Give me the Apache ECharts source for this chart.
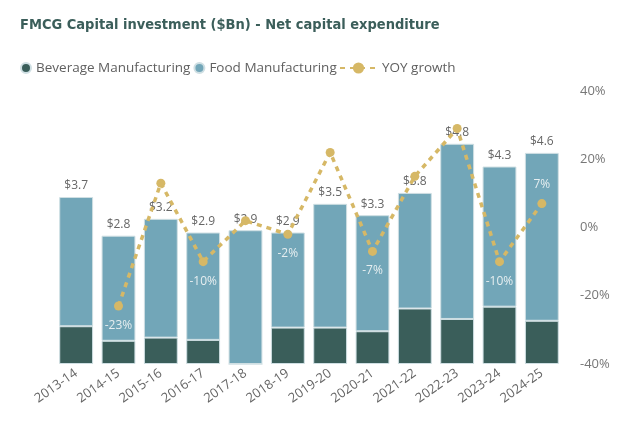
<!DOCTYPE html>
<html><head><meta charset="utf-8">
<script src="https://cdn.jsdelivr.net/npm/echarts@6/dist/echarts.min.js"></script>
<style>html,body{margin:0;padding:0;background:#fff}#c{width:630px;height:435px}</style>
</head><body><div id="c"></div>
<script>
const categories = ['2013-14','2014-15','2015-16','2016-17','2017-18','2018-19','2019-20','2020-21','2021-22','2022-23','2023-24','2024-25'];
const beverage = [0.83,0.51,0.58,0.53,0,0.80,0.80,0.72,1.22,0.99,1.26,0.95];
const food =     [2.84,2.31,2.61,2.36,2.94,2.09,2.72,2.55,2.54,3.85,3.08,3.69];
const yoyGrowth = [null,-23,13,-10,2,-2,22,-7,15,29,-10,7];
const yoyLabelShown = [false,true,false,true,false,true,false,true,false,false,true,true];
const rightTicks = [-40,-20,0,20,40];

const totals = categories.map((c,i)=>beverage[i]+food[i]);
const chart = echarts.init(document.getElementById('c'));
const txtFont = "'Open Sans', 'Noto Sans', sans-serif";
const legText = {fontFamily:txtFont,fontSize:13.5,color:'#606060'};
chart.setOption({
  animation:false,
  title:{text:'FMCG Capital investment ($Bn) - Net capital expenditure',left:20,top:18,padding:0,
    textStyle:{fontFamily:"'Liberation Sans Narrow','DejaVu Sans Condensed',sans-serif",fontWeight:'bold',fontSize:14.5,color:'#3b5e5a'}},
  legend:[
    {left:20,top:61,padding:0,itemGap:3,itemWidth:10,itemHeight:10,textStyle:legText,
     data:[{name:'Beverage Manufacturing',icon:'circle'},{name:'Food Manufacturing',icon:'circle'}]},
    {left:339,top:61,padding:0,itemWidth:37,itemHeight:14,textStyle:legText,data:[{name:'YOY growth'}]}
  ],
  grid:{left:55,right:67,top:91,bottom:71},
  xAxis:{type:'category',data:categories,axisLine:{show:false},axisTick:{show:false},
    axisLabel:{rotate:35,color:'#666',fontFamily:txtFont,fontSize:13,margin:8,interval:0}},
  yAxis:[
    {type:'value',min:0,max:6,show:false,splitLine:{show:false}},
    {type:'value',min:rightTicks[0],max:rightTicks[rightTicks.length-1],interval:20,position:'right',
      axisLine:{show:false},axisTick:{show:false},splitLine:{show:false},
      axisLabel:{formatter:'{value}%',color:'#777',fontFamily:txtFont,fontSize:13,margin:17}}
  ],
  series:[
    {name:'Beverage Manufacturing',type:'bar',stack:'t',barCategoryGap:'20%',data:beverage,
      itemStyle:{color:'#3a5e5a',borderColor:'#cfdfe3',borderWidth:1}},
    {name:'Food Manufacturing',type:'bar',stack:'t',data:food,
      itemStyle:{color:'#72a6b8',borderColor:'#cfdfe3',borderWidth:1},
      label:{show:true,position:'top',distance:5,color:'#666',fontFamily:txtFont,fontSize:12,
        formatter:p=>'$'+totals[p.dataIndex].toFixed(1)}},
    {name:'YOY growth',type:'line',yAxisIndex:1,z:5,connectNulls:false,
      data:yoyGrowth.map((v,i)=>({value:v,label:{show:yoyLabelShown[i],position:v<0?'bottom':'top'}})),
      symbol:'circle',symbolSize:9,
      lineStyle:{color:'#d6b866',width:3.5,type:[5,5]},
      itemStyle:{color:'#d6b866'},
      label:{distance:9,color:'#e6eef0',fontFamily:txtFont,fontSize:12,formatter:p=>p.value+'%'}}
  ]
});
</script></body></html>
